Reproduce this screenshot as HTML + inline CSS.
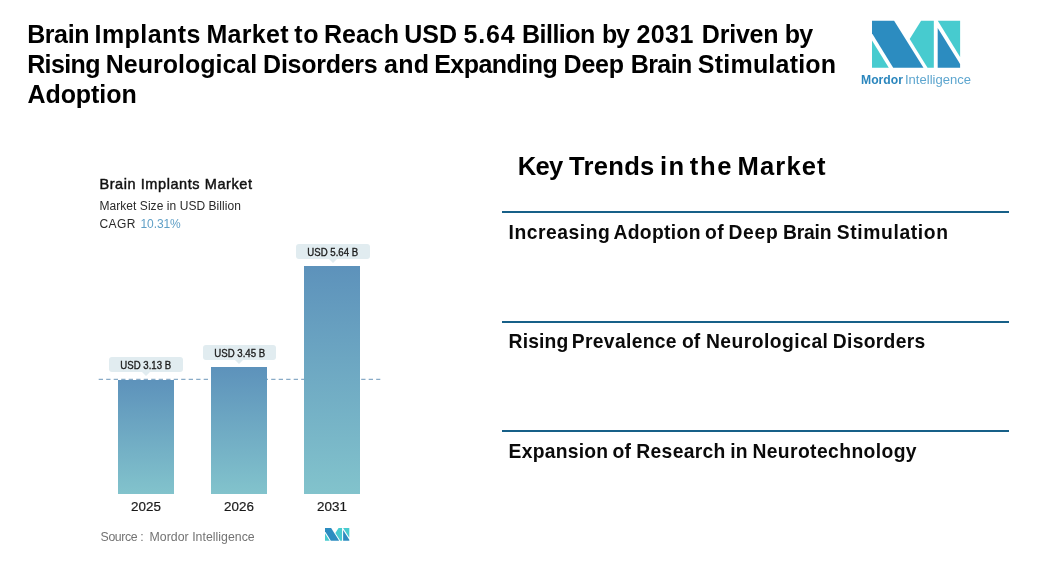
<!DOCTYPE html>
<html lang="en">
<head>
<meta charset="utf-8">
<title>Brain Implants Market</title>
<style>
  html, body { margin: 0; padding: 0; background: #ffffff; }
  body { width: 1039px; height: 577px; position: relative; overflow: hidden;
         font-family: "Liberation Sans", sans-serif; color: #000; }
  .abs { position: absolute; white-space: nowrap; }
  .title { left: 0.4px; width: 1039px; height: 30px; font-weight: bold; font-size: 25px; line-height: 30px; color: #000; }
  #t1 { top: 19.3px; }
  #t2 { top: 49.2px; }
  #t3 { top: 79.3px; }
  #logoText { left: 861.35px; top: 73.15px; font-size: 13.2px; line-height: 14px; color: #2b86bd; font-weight: bold; transform: scaleX(0.922); transform-origin: 0 50%; }
  #logoText2 { left: 904.7px; top: 73.15px; font-size: 13.2px; line-height: 14px; color: #5ea6cf; transform: scaleX(0.988); transform-origin: 0 50%; }
  #key { left: 0; top: 150.6px; width: 1039px; height: 30px; font-size: 25.6px; line-height: 30px; font-weight: bold; }
  #key span, .title span, .trend span { position: absolute; top: 0; }
  .rule { position: absolute; left: 502px; width: 507px; height: 2px; background: #176088; }
  .trend { left: 0.5px; width: 1039px; height: 22px; font-size: 19.3px; line-height: 22px; font-weight: bold; color: #0a0a0a; }
  #ct { left: 99.4px; top: 175px; font-size: 14.5px; letter-spacing: 0.58px; line-height: 18px; color: #111; -webkit-text-stroke: 0.45px #111; }
  #cs { left: 99.4px; top: 199px; font-size: 12px; line-height: 14px; color: #2a2a2a; letter-spacing: 0.06px; }
  #cc { left: 99.4px; top: 217px; font-size: 12px; line-height: 14px; color: #2a2a2a; letter-spacing: 0.45px; }
  #cc span { color: #5f9fc6; margin-left: 0.9px; letter-spacing: -0.1px; }
  .bar { position: absolute; background: linear-gradient(to bottom, #5d92bb 0%, #82c3cc 100%); }
  .lbl { position: absolute; background: #e1ecf0; border-radius: 3px; height: 15px; text-align: center;
         font-size: 10.5px; line-height: 16.2px; color: #1c1c1c; white-space: nowrap; -webkit-text-stroke: 0.35px #1c1c1c; }
  .lbl span { display: inline-block; transform: scaleX(0.915); transform-origin: 50% 50%; }
  .lbl:after { content: ""; position: absolute; left: 50%; top: 100%; margin-left: -4px;
         border-left: 4px solid transparent; border-right: 4px solid transparent; border-top: 4px solid #e1ecf0; }
  .yr { position: absolute; width: 60px; text-align: center; font-size: 13.4px; line-height: 16px; color: #1a1a1a; -webkit-text-stroke: 0.2px #1a1a1a; }
  #dash { position: absolute; left: 0; top: 0; }
  #src { left: 0; top: 528.6px; width: 400px; height: 16px; font-size: 12.3px; line-height: 16px; color: #737373; }
  #src span { position: absolute; top: 0; }
</style>
</head>
<body>
  <div class="abs title" id="t1"><span style="left:26.75px;letter-spacing:-0.4px">Brain</span> <span style="left:94.2px;letter-spacing:0.436px">Implants</span> <span style="left:206.05px;letter-spacing:0.32px">Market</span> <span style="left:293.75px;letter-spacing:0.85px">to</span> <span style="left:323.7px;letter-spacing:-0.024px">Reach</span> <span style="left:403.85px;letter-spacing:0.05px">USD</span> <span style="left:463.15px;letter-spacing:0.849px">5.64</span> <span style="left:521.7px;letter-spacing:-0.542px">Billion</span> <span style="left:601.55px;letter-spacing:-1.1px">by</span> <span style="left:636.1px;letter-spacing:0.401px">2031</span> <span style="left:701.4px;letter-spacing:-0.21px">Driven</span> <span style="left:784.4px;letter-spacing:-0.9px">by</span></div>
  <div class="abs title" id="t2"><span style="left:26.75px;letter-spacing:-0.61px">Rising</span> <span style="left:105.35px;letter-spacing:0.004px">Neurological</span> <span style="left:262.7px;letter-spacing:-0.257px">Disorders</span> <span style="left:383.6px;letter-spacing:0.25px">and</span> <span style="left:433.85px;letter-spacing:-0.544px">Expanding</span> <span style="left:563.2px;letter-spacing:-0.217px">Deep</span> <span style="left:630.4px;letter-spacing:-0.6px">Brain</span> <span style="left:697.45px;letter-spacing:0.22px">Stimulation</span></div>
  <div class="abs title" id="t3"><span style="left:27.05px;letter-spacing:-0.064px">Adoption</span></div>

  <svg class="abs" id="logo" style="left:872px; top:20px;" width="89" height="48" viewBox="872 20 89 48">
    <polygon points="872,20.8 894.1,20.8 923.5,67.8 893.2,67.8 872,33.2" fill="#2c8cc0"/>
    <polygon points="872,40.5 888.8,67.8 872,67.8" fill="#47cbcf"/>
    <polygon points="921.1,20.8 933.8,20.8 933.8,67.8 927.5,67.8 909.7,38.9" fill="#47cbcf"/>
    <polygon points="937.7,28 960.1,63.9 960.1,67.8 937.7,67.8" fill="#2c8cc0"/>
    <polygon points="937.8,20.8 960.1,20.8 960.1,57" fill="#47cbcf"/>
  </svg>
  <div class="abs" id="logoText">Mordor</div><div class="abs" id="logoText2">Intelligence</div>

  <div class="abs" id="key"><span style="left:517.75px;letter-spacing:-0.72px">Key</span> <span style="left:568.95px;letter-spacing:0.29px">Trends</span> <span style="left:659.95px;letter-spacing:1.4px">in</span> <span style="left:689.8px;letter-spacing:1.6px">the</span> <span style="left:737.55px;letter-spacing:1.11px">Market</span></div>
  <div class="rule" style="top:211px"></div>
  <div class="abs trend" id="tr1" style="top:222px"><span style="left:508.1px;letter-spacing:0.528px">Increasing</span> <span style="left:613.0px;letter-spacing:0.336px">Adoption</span> <span style="left:704.6px;letter-spacing:0.35px">of</span> <span style="left:727.95px;letter-spacing:0.7px">Deep</span> <span style="left:782.45px;letter-spacing:-0.162px">Brain</span> <span style="left:836.35px;letter-spacing:0.62px">Stimulation</span></div>
  <div class="rule" style="top:321px"></div>
  <div class="abs trend" id="tr2" style="top:331px"><span style="left:508.1px;letter-spacing:0.16px">Rising</span> <span style="left:571.25px;letter-spacing:0.333px">Prevalence</span> <span style="left:681.4px;letter-spacing:0.1px">of</span> <span style="left:705.4px;letter-spacing:0.481px">Neurological</span> <span style="left:832.25px;letter-spacing:0.312px">Disorders</span></div>
  <div class="rule" style="top:430px"></div>
  <div class="abs trend" id="tr3" style="top:441px"><span style="left:508.1px;letter-spacing:0.25px">Expansion</span> <span style="left:611.95px;letter-spacing:0.35px">of</span> <span style="left:635.8px;letter-spacing:0.321px">Research</span> <span style="left:729.75px;letter-spacing:0.25px">in</span> <span style="left:751.9px;letter-spacing:0.404px">Neurotechnology</span></div>

  <div class="abs" id="ct">Brain Implants Market</div>
  <div class="abs" id="cs">Market Size in USD Billion</div>
  <div class="abs" id="cc">CAGR <span>10.31%</span></div>

  <svg id="dash" width="1039" height="577" viewBox="0 0 1039 577"><line x1="98.7" y1="379.3" x2="380.3" y2="379.3" stroke="#6c96ba" stroke-width="1" stroke-dasharray="4.3 3.2"/></svg>
  <div class="bar" style="left:118px; top:379.6px; width:55.6px; height:114.7px;"></div>
  <div class="bar" style="left:211.1px; top:367.3px; width:55.7px; height:127px;"></div>
  <div class="bar" style="left:304.2px; top:266.2px; width:55.7px; height:228.1px;"></div>

  <div class="lbl" id="l1" style="left:108.9px; top:356.5px; width:74px;"><span>USD 3.13 B</span></div>
  <div class="lbl" id="l2" style="left:202.6px; top:345px; width:73.4px;"><span>USD 3.45 B</span></div>
  <div class="lbl" id="l3" style="left:296.1px; top:244px; width:73.6px;"><span>USD 5.64 B</span></div>

  <div class="yr" id="y1" style="left:116px; top:499px;">2025</div>
  <div class="yr" id="y2" style="left:209px; top:499px;">2026</div>
  <div class="yr" id="y3" style="left:302px; top:499px;">2031</div>

  <div class="abs" id="src"><span style="left:100.6px;letter-spacing:-0.38px">Source :</span> <span style="left:149.6px;letter-spacing:0.03px">Mordor Intelligence</span></div>
  <svg class="abs" id="logo2" style="left:325.4px; top:528.1px;" width="24.3" height="12.7" viewBox="872 20.8 88.1 47" preserveAspectRatio="none">
    <polygon points="872,20.8 894.1,20.8 923.5,67.8 893.2,67.8 872,33.2" fill="#2c8cc0"/>
    <polygon points="872,40.5 888.8,67.8 872,67.8" fill="#47cbcf"/>
    <polygon points="921.1,20.8 933.8,20.8 933.8,67.8 927.5,67.8 909.7,38.9" fill="#47cbcf"/>
    <polygon points="937.7,28 960.1,63.9 960.1,67.8 937.7,67.8" fill="#2c8cc0"/>
    <polygon points="937.8,20.8 960.1,20.8 960.1,57" fill="#47cbcf"/>
  </svg>
</body>
</html>
